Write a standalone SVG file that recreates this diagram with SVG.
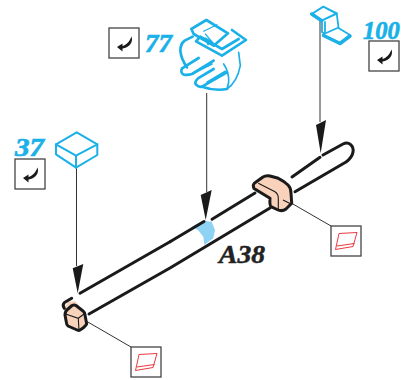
<svg xmlns="http://www.w3.org/2000/svg" width="401" height="380" viewBox="0 0 401 380">
<style>
.num{font-family:"Liberation Serif","DejaVu Serif",serif;font-weight:bold;font-style:italic;font-size:24.500px;fill:#1ab0e8;stroke:#1ab0e8;stroke-width:.7}
.lbl{font-family:"Liberation Serif","DejaVu Serif",serif;font-weight:bold;font-style:italic;font-size:26px;fill:#222;stroke:#222;stroke-width:.5}
.box{fill:#fff;stroke:#444;stroke-width:1.3}
.blue{fill:#fff;stroke:#1ab0e8;stroke-width:2;stroke-linejoin:round;stroke-linecap:round}
.lead{fill:none;stroke:#333;stroke-width:1}
.shaft{fill:none;stroke:#1a1a1a;stroke-width:3;stroke-linecap:round;stroke-linejoin:round}
.collar{fill:#f9d2bc;stroke:#1a1a1a;stroke-width:3;stroke-linejoin:round}
.inner{fill:none;stroke:#1a1a1a;stroke-width:1.100}
.red{fill:none;stroke:#e8222e;stroke-width:.9}
.c77{fill:none;stroke:#1ab0e8;stroke-linejoin:round;stroke-linecap:round}
</style>
<defs>
<g id="ret"><rect class="box" x="0" y="0" width="30" height="30"/><path d="M22.500 8.500C24.500 14 20.500 19.500 13.500 20.500L13.500 23.500L8 19L13.500 15.500L13.500 18C17.500 17 20.500 13.500 22.500 8.500Z" fill="#1a1a1a"/></g>
<g id="rd"><rect class="box" x="0" y="0" width="30" height="30"/><path class="red" d="M8 7.500L26 6.500L22 20.500L4.500 23.500ZM6 20L23.500 17.500"/></g>
</defs>
<g id="shaft">
<path d="M191.700 226.700L203 220.700L211.700 221.700L215 230L213.300 238.300L204.300 245L203.300 236.700L198 230Z" fill="#8fd3f4"/>
<path d="M204 221.500L170 241.700M212 219.300L255 193" class="shaft"/>
<path d="M170 268L270 208M170 241.700L80 293.300M170 268L89 314" class="shaft"/>
<path d="M292 177L320 157.300M323 155L343 144C349 141 354 146 353 152C352.500 156 350 159 346 162L295 191.700" class="shaft"/>
</g>
<g id="connectors">
<path class="lead" d="M76.500 167.700V266M206.700 93V192M320 20V122M87.300 321.700L131 347M291.700 203.300L331 226"/>
<path d="M72.700 268.300L83.300 264L77.700 293.300Z M200.700 195L211.700 190L205.700 220Z M316 125L326 120L320.700 153.300Z" fill="#1a1a1a"/>
</g>
<g id="collar-right">
<path class="collar" d="M253.300 186Q253 184 256 182L263 177Q266 175 270 176L278.300 178.300Q284 181 288 185Q291 188 291 193L291.700 203.300L286 209Q282 212 277 209.500L271 206.700Q269.500 205 270 198.300L254 188.500Z"/>
<path class="inner" d="M258.300 183.300L275 191.700Q278.300 194 278.300 198V209.300M283 200L291 204"/>
</g>
<g id="collar-left">
<path d="M64 309L68 302L75 301L85 313L78 318Z" fill="#f9d2bc"/>
<path class="shaft" d="M71.700 298.300L64.500 302.500Q62 305 64.300 308.300"/>
<path class="collar" d="M65 315Q65 311 68 309L72 305.500Q74 304.500 76 305.500L83 311Q85 312.500 85 315L86.700 324Q85.500 326 83 328L80 330Q78.500 331 76 329.500L68 326Q66.500 325 66.300 322Z"/>
<path class="inner" d="M65.500 314L78.300 318.300L85 313.300M78.300 318.300L79 330.700"/>
</g>
<g id="node-37">
<path class="blue" d="M76.700 132.300L97.300 144.300V155L76 167.700L56 154.300V144.300Z"/>
<path class="blue" d="M56 144.300L76 155.700L97.300 144.300M76 155.700V167.700"/>
<text class="num" x="15" y="155.500" textLength="29" lengthAdjust="spacingAndGlyphs">37</text>
<use href="#ret" x="15" y="159"/>
</g>
<g id="node-77">
<g transform="translate(172 14) scale(.3333)">
<g class="c77" stroke-width="8">
<path d="M62 68L38 80Q25 90 25 110Q27 135 45 160"/>
<path d="M80 132L30 163Q24 176 35 182Q48 184 60 180L125 140"/>
<path d="M125 165L78 193Q66 205 72 212Q80 220 90 218L165 175"/>
<path d="M90 218Q130 232 165 225"/>
</g>
<g class="c77" stroke-width="5">
<path d="M155 150Q172 175 170 205L165 225Q195 205 205 155L200 115"/>
<path d="M60 180L120 150M105 205L160 172"/>
</g>
<path d="M58 45L103 18L168 58L125 95L65 60Z" fill="#fff" stroke="#1ab0e8" stroke-width="8" stroke-linejoin="round"/>
<path class="c77" stroke-width="3.500" d="M95 52L135 32M100 60L130 95"/>
<path class="c77" stroke-width="8" d="M180 48L222 78L150 125L72 82L85 68L150 105L200 75"/>
<path class="c77" stroke-width="4" d="M100 72L118 82L108 92Z"/>
</g>
<use href="#ret" x="109" y="28"/>
<text class="num" x="145" y="51.500" textLength="27" lengthAdjust="spacingAndGlyphs">77</text>
</g>
<g id="node-100">
<path d="M336.700 13.500L338.500 27.500M322 21V32L325 34M325 22V32" fill="none" stroke="#1ab0e8" stroke-width="1.800" stroke-linecap="round"/>
<path d="M325 33.500L338 27.700L350 35L340 43L323 35Z" fill="#fff" stroke="#1ab0e8" stroke-width="1.800" stroke-linejoin="round"/>
<path d="M323.300 6.700L336.700 13.500L321.700 20.700L311.700 14Z" fill="#fff" stroke="#1ab0e8" stroke-width="2" stroke-linejoin="round"/>
<path d="M311.700 14L321.700 20.700M323.500 35.500L340 43.500L350 36" fill="none" stroke="#1ab0e8" stroke-width="3.500" stroke-linecap="round" stroke-linejoin="round"/>
<text class="num" x="363" y="38.500">100</text>
<use href="#ret" x="369" y="41"/>
</g>
<g id="label-a38"><text class="lbl" x="219" y="263" textLength="46" lengthAdjust="spacingAndGlyphs">A38</text></g>
<g id="gauge-1"><use href="#rd" x="131" y="347"/></g>
<g id="gauge-2"><use href="#rd" x="331" y="226"/></g>
</svg>
